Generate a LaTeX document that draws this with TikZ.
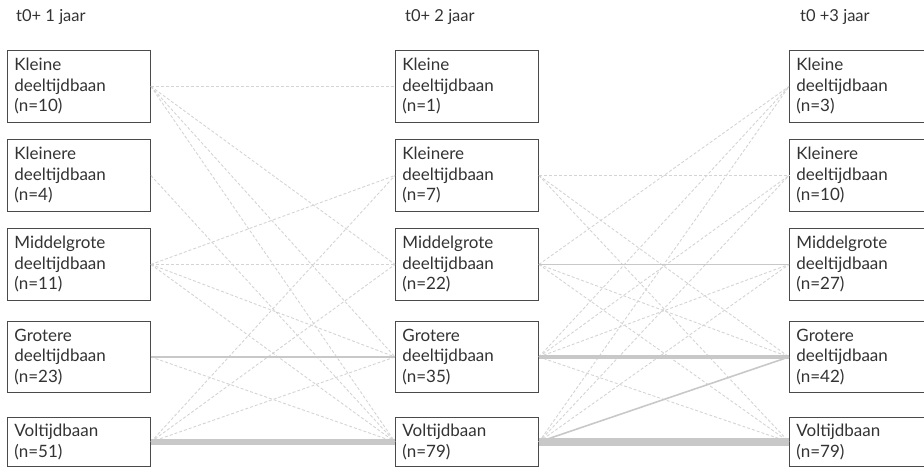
\documentclass[tikz,border=0pt]{standalone}
\usepackage{fontspec}
\setmainfont{Lato}
\definecolor{boxline}{HTML}{4A4A4A}
\definecolor{txt}{HTML}{333333}
\definecolor{flowlight}{HTML}{D4D4D4}
\definecolor{flow}{HTML}{C8C8C8}
\begin{document}
\begin{tikzpicture}[x=1pt,y=-1pt,
  state/.style={draw=boxline, line width=0.9pt, fill=white, text=txt,
    text width=129pt, inner xsep=7pt, inner ysep=0pt, align=left,
    anchor=north west, font=\fontsize{17}{20.5}\selectfont},
  year/.style={anchor=west, text=txt, font=\fontsize{16.5}{18}\selectfont, inner sep=0pt},
  minor/.style={draw=flowlight, line width=0.9pt, dash pattern=on 3pt off 2pt},
  single/.style={draw=flow, line width=1.6pt},
  medium/.style={draw=flow, line width=4pt},
  major/.style={draw=flow, line width=6pt},
  heavy/.style={draw=flow, line width=8pt}]
\useasboundingbox (0,0) rectangle (924,468);
\clip (0,0) rectangle (924,468);

% column headings
\node[year] (h1) at (16,17) {t0+ 1 jaar};
\node[year] (h2) at (405,17) {t0+ 2 jaar};
\node[year] (h3) at (800,17) {t0 +3 jaar};

% boxes: first year
\node[state, minimum height=72pt] (a1) at (7,50)  {Kleine\\deeltijdbaan\\(n=10)};
\node[state, minimum height=72pt] (a2) at (7,139) {Kleinere\\deeltijdbaan\\(n=4)};
\node[state, minimum height=72pt] (a3) at (7,228) {Middelgrote\\deeltijdbaan\\(n=11)};
\node[state, minimum height=71pt] (a4) at (7,321) {Grotere\\deeltijdbaan\\(n=23)};
\node[state, minimum height=49pt] (a5) at (7,417) {Voltijdbaan\\(n=51)};

% boxes: second year
\node[state, minimum height=72pt] (b1) at (395,50)  {Kleine\\deeltijdbaan\\(n=1)};
\node[state, minimum height=72pt] (b2) at (395,139) {Kleinere\\deeltijdbaan\\(n=7)};
\node[state, minimum height=72pt] (b3) at (395,228) {Middelgrote\\deeltijdbaan\\(n=22)};
\node[state, minimum height=71pt] (b4) at (395,321) {Grotere\\deeltijdbaan\\(n=35)};
\node[state, minimum height=49pt] (b5) at (395,417) {Voltijdbaan\\(n=79)};

% boxes: third year
\node[state, minimum height=72pt] (c1) at (789,50)  {Kleine\\deeltijdbaan\\(n=3)};
\node[state, minimum height=72pt] (c2) at (789,139) {Kleinere\\deeltijdbaan\\(n=10)};
\node[state, minimum height=72pt] (c3) at (789,228) {Middelgrote\\deeltijdbaan\\(n=27)};
\node[state, minimum height=71pt] (c4) at (789,321) {Grotere\\deeltijdbaan\\(n=42)};
\node[state, minimum height=49pt] (c5) at (789,417) {Voltijdbaan\\(n=79)};

% transitions, first to second year
\foreach \s/\t in {a1/b1, a1/b3, a1/b4, a1/b5, a2/b5, a3/b2, a3/b3, a3/b4,
                   a3/b5, a4/b5, a5/b2, a5/b3, a5/b4}
  \draw[minor] (\s.east) -- (\t.west);
\draw[single] (a4.east) -- (b4.west);
\draw[major] (a5.east) -- (b5.west);

% transitions, second to third year
\foreach \s/\t in {b2/c2, b2/c4, b2/c5, b3/c1, b3/c4, b3/c5, b4/c1, b4/c2,
                   b4/c3, b4/c5, b5/c1, b5/c2, b5/c3}
  \draw[minor] (\s.east) -- (\t.west);
\draw[single] (b3.east) -- (c3.west);
\draw[single] (b5.east) -- (c4.west);
\draw[medium] (b4.east) -- (c4.west);
\draw[heavy] (b5.east) -- (c5.west);
\end{tikzpicture}
\end{document}
